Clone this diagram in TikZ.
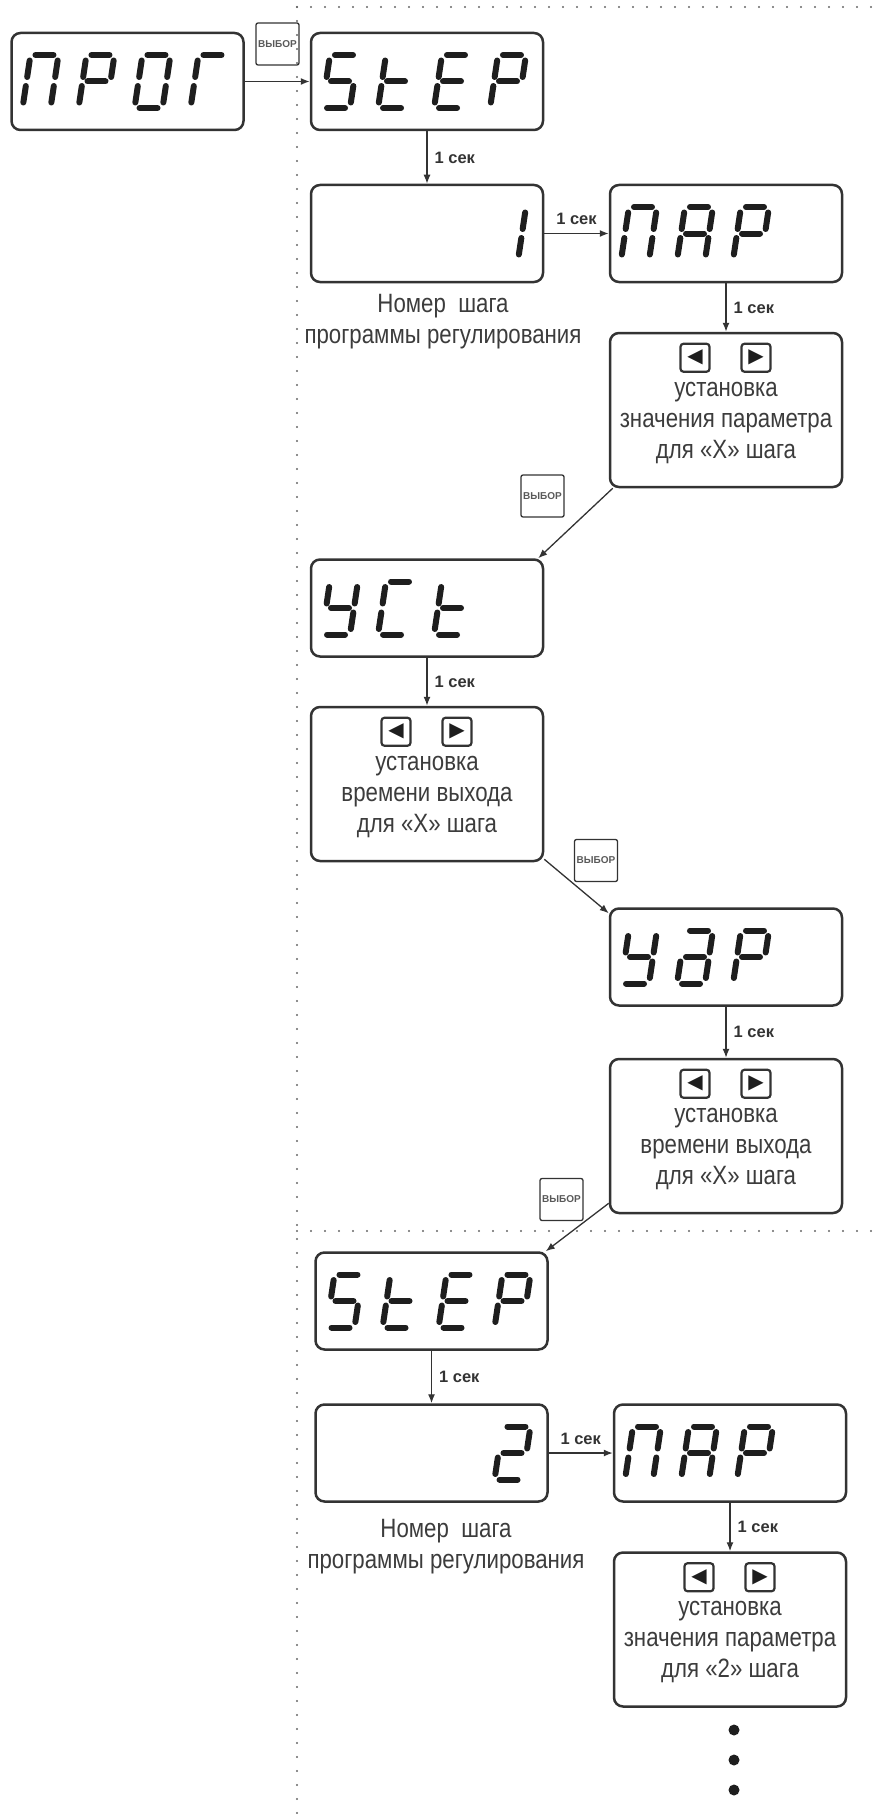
\documentclass[tikz,border=0pt]{standalone}
\usepackage{fontspec}
\setmainfont{Liberation Sans}
\newfontfamily\narrowfont{Liberation Sans}[FakeStretch=0.84]
\newfontfamily\symbfont{DejaVu Sans}
\usetikzlibrary{arrows.meta}

\definecolor{ink}{HTML}{333333}
\definecolor{segcol}{HTML}{1E1E1E}
\definecolor{txt}{HTML}{3C3C3C}

\tikzset{
  lcdbox/.style={draw=ink, line width=2.5pt, rounded corners=9pt, minimum width=232pt, minimum height=97pt, inner sep=0pt},
  setbox/.style={lcdbox, minimum height=154pt},
  vybor/.style={draw=ink, line width=1.3pt, rounded corners=2pt, minimum width=43pt, minimum height=42pt, inner sep=0pt, text=gray!70!black, font=\bfseries\fontsize{10}{11}\selectfont},
  arrowkey/.style={draw=ink, line width=2.2pt, rounded corners=3pt, minimum width=29pt, minimum height=28pt, inner sep=0pt, text=segcol, font=\symbfont\fontsize{20}{20}\selectfont},
  boxtext/.style={align=center, inner sep=0pt, text=txt, font=\narrowfont\fontsize{26.5}{31}\selectfont},
  seclbl/.style={inner sep=0pt, text=ink, font=\bfseries\fontsize{16.5}{18}\selectfont},
  arr/.style={draw=ink, line width=1.3pt, -{Latex[length=9pt,width=7pt]}},
  lcdseg/.style={draw=segcol, line width=6pt, line cap=round},
  dotline/.style={draw=gray!80!black, line width=2.2pt, line cap=round, dash pattern=on 0pt off 14pt},
}

% afficheur : #1 = premiere position, #2 = cadre, #3 = segments allumes
\newcommand\lcd[3][1]{%
  \foreach \segs [count=\i from #1] in {#3} {
    \begin{scope}[shift={([xshift={56*\i-143}]#2.center)}, xslant=0.15]
      \coordinate (a1) at (-9,-26.5);  \coordinate (a2) at (9,-26.5);
      \coordinate (b1) at (14,-21);    \coordinate (b2) at (14,-4.5);
      \coordinate (c1) at (14,4.5);    \coordinate (c2) at (14,21);
      \coordinate (d1) at (-9,26.5);   \coordinate (d2) at (9,26.5);
      \coordinate (e1) at (-14,4.5);   \coordinate (e2) at (-14,21);
      \coordinate (f1) at (-14,-21);   \coordinate (f2) at (-14,-4.5);
      \coordinate (g1) at (-9,0);      \coordinate (g2) at (9,0);
      \foreach \s in \segs \draw[lcdseg] (\s1) -- (\s2);
    \end{scope}}}

% cadre de reglage : touches et texte
\newcommand\setting[2]{%
  \node[arrowkey] (#1-l) at ([xshift=-31pt,yshift=-26pt]#1.north) {◀};
  \node[arrowkey] (#1-r) at ([xshift=30pt,yshift=-26pt]#1.north) {▶};
  \node[boxtext] (#1-t) at ([yshift=-91pt]#1.north) {#2};}

\begin{document}
\begin{tikzpicture}[x=1pt,y=-1pt]
\useasboundingbox (0,0) rectangle (879,1814);

% Lignes pointillees
\draw[dotline] (297,7) -- (879,7);
\draw[dotline] (297,7) -- (297,1814);
\draw[dotline] (297,1231) -- (879,1231);

% Cadres
\node[lcdbox] (prog) at (127.5,81.5) {};
\node[lcdbox] (step1) at (427,81.5) {};
\node[lcdbox] (num1) at (427,233.5) {};
\node[lcdbox] (par1) at (726,233.5) {};
\node[setbox] (set1) at (726,410) {};
\node[lcdbox] (yct) at (427,608) {};
\node[setbox] (set2) at (427,784) {};
\node[lcdbox] (udr) at (726,957) {};
\node[setbox] (set3) at (726,1136) {};
\node[lcdbox] (step2) at (431.5,1301) {};
\node[lcdbox] (num2) at (431.5,1453) {};
\node[lcdbox] (par2) at (730,1453) {};
\node[setbox] (set4) at (730,1629.5) {};

% Afficheurs
\lcd{prog}{{a,b,c,e,f},{a,b,e,f,g},{a,b,c,d,e,f},{a,e,f}}
\lcd{step1}{{a,c,d,f,g},{d,e,f,g},{a,d,e,f,g},{a,b,e,f,g}}
\lcd[4]{num1}{{b,c}}
\lcd{par1}{{a,b,c,e,f},{a,b,c,e,f,g},{a,b,e,f,g}}
\lcd{yct}{{b,c,d,f,g},{a,d,e,f},{d,e,f,g}}
\lcd{udr}{{b,c,d,f,g},{a,b,c,d,e,g},{a,b,e,f,g}}
\lcd{step2}{{a,c,d,f,g},{d,e,f,g},{a,d,e,f,g},{a,b,e,f,g}}
\lcd[4]{num2}{{a,b,d,e,g}}
\lcd{par2}{{a,b,c,e,f},{a,b,c,e,f,g},{a,b,e,f,g}}

% Textes
\setting{set1}{установка\\значения параметра\\для «X» шага}
\setting{set2}{установка\\времени выхода\\для «X» шага}
\setting{set3}{установка\\времени выхода\\для «X» шага}
\setting{set4}{установка\\значения параметра\\для «2» шага}
\node[boxtext] (cap1) at (443,322) {Номер~~шага\\программы регулирования};
\node[boxtext] (cap2) at (446,1547) {Номер~~шага\\программы регулирования};

% Touches ВЫБОР
\node[vybor] (v1) at (277.5,44) {ВЫБОР};
\node[vybor] (v2) at (542.5,496) {ВЫБОР};
\node[vybor] (v3) at (596,860.5) {ВЫБОР};
\node[vybor] (v4) at (561.5,1199.5) {ВЫБОР};

% Fleches
\draw[arr] (prog) -- (step1);
\draw[arr] (step1) -- node[seclbl, right=7pt] (s1) {1 сек} (num1);
\draw[arr] (num1) -- node[seclbl, above=8pt] (s2) {1 сек} (par1);
\draw[arr] (par1) -- node[seclbl, right=7pt] (s3) {1 сек} (set1);
\draw[arr] ([xshift=4pt]set1.south west) -- ([xshift=-6pt]yct.north east);
\draw[arr] (yct) -- node[seclbl, right=7pt] (s4) {1 сек} (set2);
\draw[arr] ([yshift=3pt]set2.south east) -- ([yshift=-6pt]udr.north west);
\draw[arr] (udr) -- node[seclbl, right=7pt] (s5) {1 сек} (set3);
\draw[arr] ([yshift=11pt]set3.south west) -- ([xshift=-3pt]step2.north east);
\draw[arr] (step2) -- node[seclbl, right=7pt] (s6) {1 сек} (num2);
\draw[arr] (num2) -- node[seclbl, above=8pt] (s7) {1 сек} (par2);
\draw[arr] (par2) -- node[seclbl, right=7pt] (s8) {1 сек} (set4);

% Suite
\foreach \y in {1730,1760,1790} \fill[segcol] (734,\y) circle (5.5pt);

\end{tikzpicture}
\end{document}
